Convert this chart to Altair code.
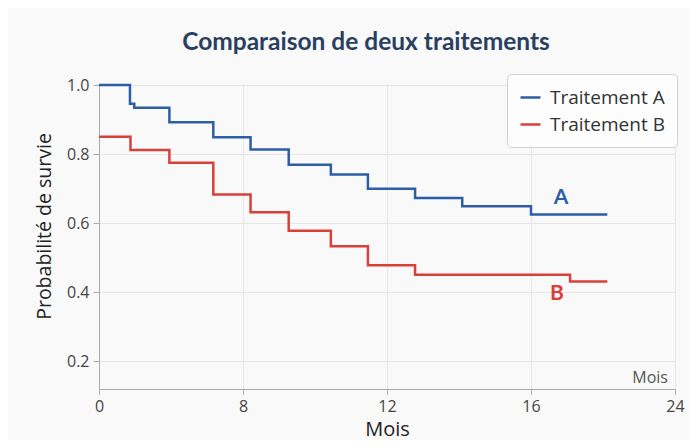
import altair as alt
import pandas as pd

# --- data ---
months_a = [0, 1.72, 1.96, 3.91, 6.35, 8.21, 9.27, 10.44, 11.47, 12.78, 14.09, 16.0, 20.24]
surv_a = [1.0, 0.946, 0.934, 0.892, 0.849, 0.813, 0.769, 0.741, 0.700, 0.673, 0.649, 0.625, 0.625]

months_b = [0, 1.75, 3.91, 6.35, 8.21, 9.27, 10.44, 11.47, 12.78, 18.17, 20.24]
surv_b = [0.850, 0.812, 0.775, 0.683, 0.632, 0.578, 0.533, 0.478, 0.451, 0.431, 0.431]

series = ["Traitement A", "Traitement B"]
colors = ["#2b5ea6", "#d8403a"]

x_ticks = [0, 8, 12, 16, 24]
y_ticks = [0.2, 0.4, 0.6, 0.8, 1.0]

end_labels = ["A", "B"]
end_label_x = [17.67, 17.44]
end_label_y = [0.674, 0.396]

df = pd.concat([
    pd.DataFrame({"mois": months_a, "survie": surv_a, "traitement": series[0]}),
    pd.DataFrame({"mois": months_b, "survie": surv_b, "traitement": series[1]}),
])
lab = pd.DataFrame({"mois": end_label_x, "survie": end_label_y, "txt": end_labels, "traitement": series})
corner = pd.DataFrame({"mois": [x_ticks[-1]], "survie": [0.12], "txt": ["Mois"]})

W, H = 576, 304
xscale = alt.Scale(domain=x_ticks, range=[0, W * 0.25, W * 0.5, W * 0.75, W])
yscale = alt.Scale(domain=[0.12, 1.0], nice=False, zero=False)

x_enc = alt.X("mois:Q", scale=xscale, axis=alt.Axis(
    values=x_ticks, title="Mois", titleFontSize=20, titleFontWeight="normal",
    titleColor="#222", titleFont="Open Sans", titlePadding=5,
    labelFont="Open Sans", labelFontSize=16, labelColor="#444", labelPadding=4,
    labelFlush=False,
    tickColor="#aaa", domainColor="#aaa", tickSize=5, gridColor="#e6e6e6"))
y_enc = alt.Y("survie:Q", scale=yscale, axis=alt.Axis(
    values=y_ticks, format=".1f", title="Probabilité de survie", titleFontSize=19.5,
    titleFontWeight="normal", titleColor="#222", titleFont="Open Sans", titlePadding=12,
    titleY=141,
    labelFont="Open Sans", labelFontSize=16, labelColor="#444", labelPadding=4,
    labelFlush=False,
    tickColor="#aaa", domainColor="#aaa", tickSize=6, gridColor="#e6e6e6"))

cscale = alt.Scale(domain=series, range=colors)

lines = alt.Chart(df).mark_line(interpolate="step-after", strokeWidth=2.5).encode(
    x=x_enc, y=y_enc,
    color=alt.Color("traitement:N", scale=cscale, legend=alt.Legend(
        title=None, orient="none", legendX=408, legendY=-11,
        symbolType="stroke", symbolStrokeWidth=2.5, symbolSize=400,
        labelFont="Open Sans", labelFontSize=19, labelColor="#333", labelOffset=8,
        rowPadding=5, padding=12, fillColor="#fdfdfd", strokeColor="#d0d0d0",
        cornerRadius=4)),
)

labels = alt.Chart(lab).mark_text(font="Lato", fontSize=21, fontWeight="bold",
                                  align="center", baseline="middle").encode(
    x="mois:Q", y="survie:Q", text="txt:N",
    color=alt.Color("traitement:N", scale=cscale, legend=None))

corner_txt = alt.Chart(corner).mark_text(font="Open Sans", fontSize=16, color="#555",
                                         align="right", baseline="bottom", dx=-7, dy=-3).encode(
    x="mois:Q", y="survie:Q", text="txt:N")

chart = alt.layer(lines, labels, corner_txt).properties(
    width=W, height=H,
    title=alt.TitleParams("Comparaison de deux traitements", font="Lato", fontSize=24.5,
                          fontWeight="bold", color="#2a3f5f", anchor="middle", dx=-21, offset=18),
    background="#f9f9f9",
    autosize=alt.AutoSizeParams(type="none"),
    padding={"left": 91, "top": 77, "right": 14, "bottom": 51},
).configure_view(stroke=None)

chart.save("out.html", embed_options={"renderer": "svg", "actions": False})
